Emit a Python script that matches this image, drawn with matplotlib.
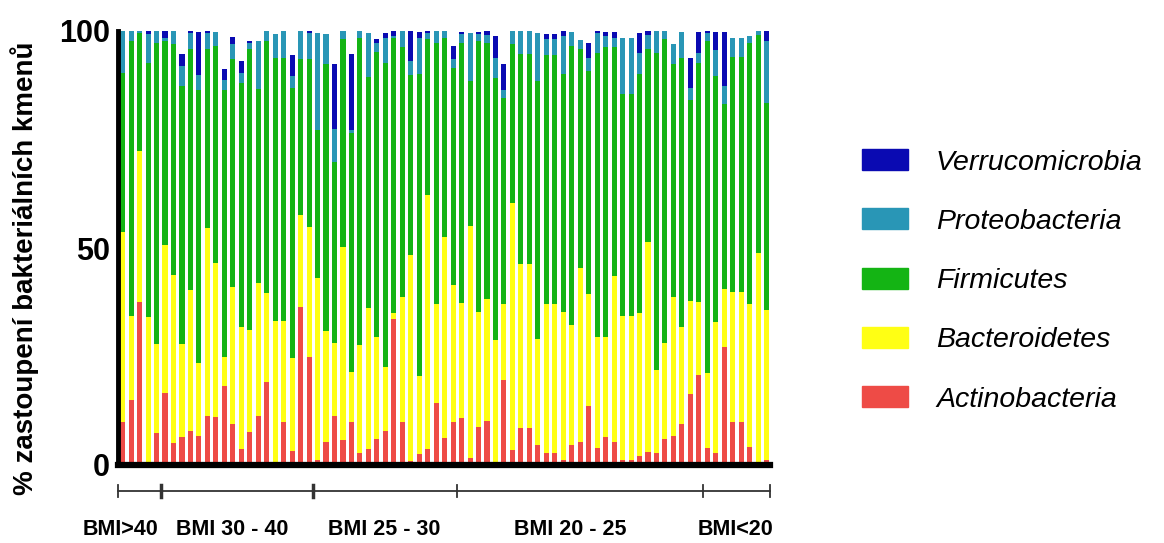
import numpy as np
import matplotlib.pyplot as plt
from matplotlib.patches import Rectangle

# relative abundance (%) of bacterial phyla per sample, ordered by BMI group
actinobacteria = [10.0, 15.0, 37.5, 0.8, 7.3, 16.5, 5.0, 6.4, 7.9, 6.7, 11.2, 11.0, 18.2, 9.4, 3.6, 7.7,
                  11.2, 19.1, 0.4, 10.0, 3.3, 36.3, 25.0, 1.2, 5.4, 11.2, 5.8, 9.8, 2.7, 3.6, 6.0, 7.8,
                  33.6, 9.8, 0.9, 2.5, 3.6, 14.2, 6.2, 9.8, 10.9, 1.5, 8.8, 10.2, 0.8, 19.5, 3.5, 8.6,
                  8.6, 4.6, 2.7, 2.7, 1.2, 4.6, 5.2, 13.7, 4.0, 6.5, 5.4, 1.2, 1.2, 2.1, 2.9, 2.7,
                  6.0, 6.7, 9.4, 16.3, 20.8, 4.0, 2.8, 27.3, 9.8, 9.8, 4.1, 0.5, 1.2]
bacteroidetes = [43.7, 19.4, 34.8, 33.2, 20.5, 34.3, 38.8, 21.4, 32.5, 16.8, 43.3, 35.5, 6.8, 31.5, 28.1, 23.5,
                 30.7, 20.5, 32.8, 23.2, 21.3, 21.4, 29.8, 41.9, 25.4, 16.9, 44.4, 11.7, 25.0, 32.6, 23.6, 14.8,
                 1.4, 29.0, 47.6, 18.0, 58.6, 23.0, 46.3, 31.7, 26.4, 53.5, 26.4, 28.0, 28.0, 17.7, 56.9, 37.7,
                 37.7, 24.4, 34.5, 34.5, 34.0, 27.7, 40.2, 25.8, 25.6, 23.0, 38.1, 33.2, 33.2, 32.9, 48.4, 19.2,
                 22.2, 32.1, 22.3, 21.6, 16.7, 17.2, 30.1, 13.2, 30.0, 30.0, 33.1, 48.3, 34.6]
firmicutes = [36.7, 63.3, 27.3, 58.7, 69.5, 46.9, 53.1, 59.5, 55.4, 63.0, 41.4, 50.0, 61.3, 52.6, 56.4, 64.6,
              44.8, 58.1, 60.6, 60.6, 62.3, 35.8, 38.8, 34.2, 61.7, 41.7, 47.9, 55.0, 70.8, 53.3, 65.6, 70.1,
              63.5, 57.4, 41.3, 69.5, 35.9, 60.0, 46.0, 50.0, 60.0, 33.5, 62.5, 59.1, 60.4, 47.4, 36.5, 48.3,
              48.3, 59.5, 57.2, 57.2, 54.8, 64.2, 50.4, 51.3, 65.4, 66.7, 52.7, 51.0, 51.0, 55.0, 44.5, 73.1,
              69.9, 53.7, 62.1, 46.2, 55.2, 76.5, 56.7, 42.6, 54.3, 54.3, 60.0, 50.2, 47.5]
proteobacteria = [9.6, 2.3, 0.4, 6.5, 2.7, 0.8, 3.1, 4.6, 3.8, 3.3, 3.7, 3.3, 2.5, 3.4, 2.3, 1.5,
                  11.0, 2.3, 5.6, 6.2, 2.7, 6.5, 6.0, 22.2, 6.7, 7.7, 1.9, 0.6, 1.5, 10.1, 2.1, 5.8,
                  0.3, 3.8, 3.3, 8.5, 1.5, 2.8, 1.5, 2.0, 1.9, 11.1, 1.5, 1.7, 4.6, 1.9, 3.1, 5.4,
                  5.4, 11.1, 3.7, 3.7, 8.8, 3.3, 2.1, 3.0, 4.6, 2.6, 2.3, 13.1, 13.1, 5.0, 3.2, 5.0,
                  1.9, 4.4, 6.0, 2.8, 2.3, 1.9, 6.0, 4.2, 4.4, 4.4, 1.6, 1.0, 14.4]
verrucomicrobia = [0.0, 0.0, 0.0, 0.8, 0.0, 1.5, 0.0, 2.7, 0.4, 10.0, 0.4, 0.0, 2.5, 1.7, 2.7, 0.5,
                   0.0, 0.0, 0.0, 0.0, 4.8, 0.0, 0.4, 0.0, 0.0, 15.0, 0.0, 17.5, 0.0, 0.0, 0.8, 1.0,
                   1.2, 0.0, 6.9, 1.3, 0.4, 0.0, 0.0, 3.0, 0.6, 0.0, 0.6, 1.0, 5.0, 5.8, 0.0, 0.0,
                   0.0, 0.0, 1.1, 1.1, 1.2, 0.0, 0.0, 3.4, 0.4, 1.0, 1.3, 0.0, 0.0, 4.5, 1.0, 0.0,
                   0.0, 0.0, 0.0, 6.9, 4.8, 0.4, 4.2, 12.5, 0.0, 0.0, 0.0, 0.0, 2.3]

groups = ['BMI>40', 'BMI 30 - 40', 'BMI 25 - 30', 'BMI 20 - 25', 'BMI<20']
group_sizes = [5, 18, 17, 29, 8]

phyla = ['Actinobacteria', 'Bacteroidetes', 'Firmicutes', 'Proteobacteria', 'Verrucomicrobia']
colors = ['#EE4B46', '#FFFF14', '#14B414', '#2996B6', '#0A0AB2']

plt.rcParams['font.family'] = ['Liberation Sans', 'DejaVu Sans']

fig = plt.figure(figsize=(11.64, 5.43), dpi=100)
ax = fig.add_axes([118/1164, 78/543, 652/1164, 434/543])

values = [actinobacteria, bacteroidetes, firmicutes, proteobacteria, verrucomicrobia]
x = np.arange(len(actinobacteria))
bottom = np.zeros(len(x))
for name, vals, c in zip(phyla, values, colors):
    vals = np.array(vals)
    ax.bar(x, vals, 0.6, bottom=bottom, color=c, linewidth=0, label=name)
    bottom += vals

ax.set_xlim(-0.55, len(x) - 0.6)
ax.set_ylim(0, 100)
ax.set_xticks([])
ax.set_yticks([0, 50, 100])
ax.tick_params(axis='y', length=0, pad=6, labelsize=22)
for lab in ax.get_yticklabels():
    lab.set_fontweight('bold')
for s in ['top', 'right']:
    ax.spines[s].set_visible(False)
ax.spines['left'].set_linewidth(3.5)
ax.spines['bottom'].set_linewidth(4.5)

fig.text(25/1164, 1 - 268/543, '% zastoupení bakteriálních kmenů', rotation=90,
         ha='center', va='center', fontsize=20, fontweight='bold')

# BMI group axis below the bars
trans = ax.get_xaxis_transform()
edges = np.concatenate([[-0.55], np.cumsum(group_sizes)[:-1] - 0.5, [len(x) - 0.6]])
line_y = -0.06
ax.plot([edges[0], edges[-1]], [line_y, line_y], color='#333333', lw=1.3,
        transform=trans, clip_on=False)
for i, e in enumerate(edges):
    lw = 2.5 if i in (1, 2) else 1.3
    ax.plot([e, e], [line_y + 0.013, line_y - 0.013], color='#333333', lw=lw,
            transform=trans, clip_on=False)
label_x = [-0.3, 12.9, 30.9, 52.8, 72.3]
for g, lx in zip(groups, label_x):
    ax.text(lx, -0.148, g, transform=trans, ha='center', va='center',
            fontsize=15.5, fontweight='bold')

handles = [Rectangle((0, 0), 1, 1, color=c) for c in colors[::-1]]
fig.legend(handles, [p for p in phyla[::-1]], loc='upper left',
           bbox_to_anchor=(862/1164, 1 - 149/543), frameon=False,
           borderpad=0, borderaxespad=0, handlelength=1.62, handleheight=0.77,
           handletextpad=0.98, labelspacing=1.15,
           prop={'size': 20.5, 'style': 'italic'})

fig.savefig('out.png', dpi=100)
